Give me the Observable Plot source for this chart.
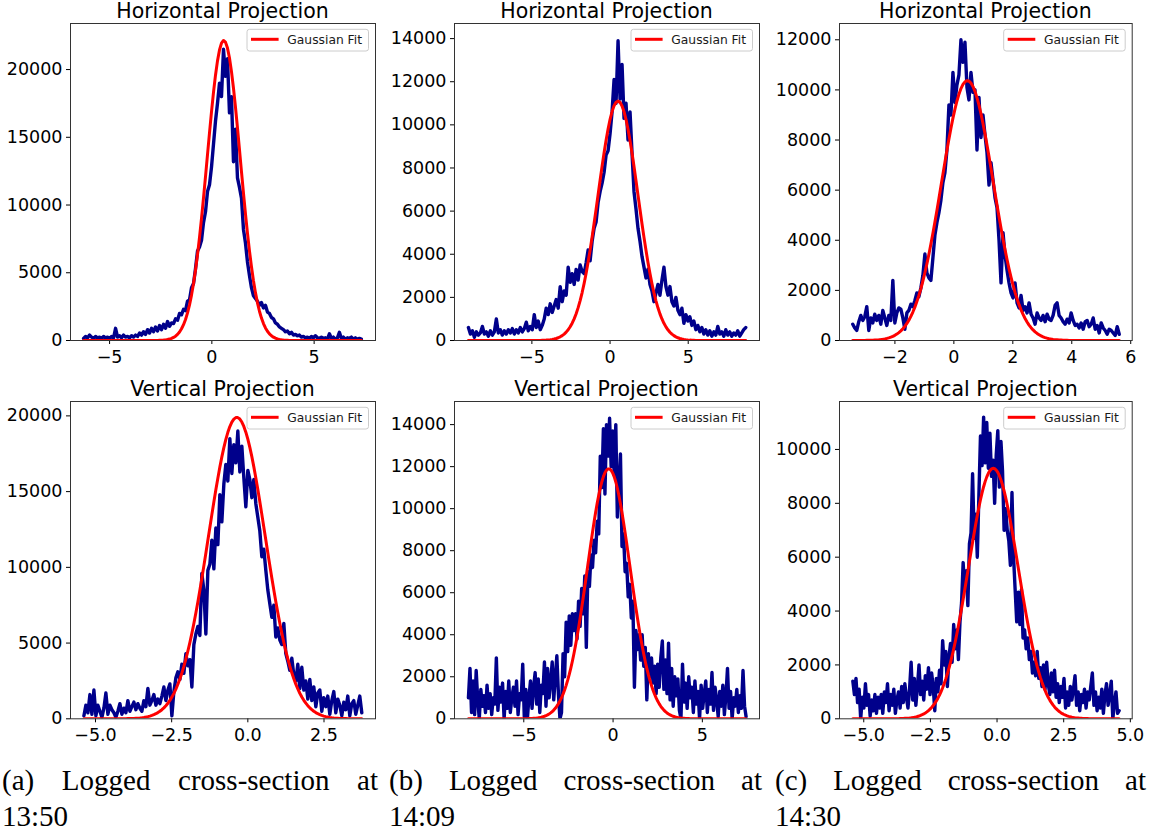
<!DOCTYPE html>
<html>
<head>
<meta charset="utf-8">
<script src="https://cdn.jsdelivr.net/npm/d3@7"></script>
<script src="https://cdn.jsdelivr.net/npm/@observablehq/plot@0.6"></script>
<style>
  html, body { margin: 0; padding: 0; background: white; }
  #figure { position: relative; width: 1149px; height: 832px; overflow: hidden; background: white; }
  #figure svg { position: absolute; }
  .caption { position: absolute; font-family: "Liberation Serif", "DejaVu Serif", serif; font-size: 29px; line-height: 36px; color: black; z-index: 2; }
  .caption .first { text-align: justify; text-align-last: justify; white-space: nowrap; }
</style>
</head>
<body>
<div id="figure"></div>
<script>
// Beam cross-section profiles logged at three times: horizontal and vertical
// projections (intensity vs. position), each with its fitted Gaussian.

const panelTitles = ["Horizontal Projection", "Vertical Projection"];
const captionLabels = ["(a)", "(b)", "(c)"];
const captionTimes = ["13:50", "14:09", "14:30"];
const legendLabel = "Gaussian Fit";

// ---- 13:50 ----
const horiz1350Span = [-6.27, 7.31];
const horiz1350 = [
  150,300,200,400,250,150,300,200,250,150,
  300,200,250,150,300,200,900,250,350,200,
  400,250,300,200,350,250,400,300,550,400,
  650,450,800,550,900,650,1000,700,1100,800,
  1200,900,1400,1050,1300,1250,1600,1500,2000,1900,
  2300,2200,2900,3000,3900,4200,5300,6600,6900,7400,
  8700,9500,11000,11500,12800,14500,16200,17500,19000,18000,
  21500,19500,20800,16800,18000,13200,15600,12000,11300,10500,
  8200,7200,5800,4800,3900,3300,3100,2900,2600,2800,
  2400,2600,2100,2000,1700,1600,1300,1200,1000,900,
  800,650,700,500,600,400,450,350,400,250,
  300,200,250,150,300,200,350,200,150,250,
  150,200,100,500,150,250,100,200,600,150,
  250,100,200,150,250,100,200,100,150,100
];
const horiz1350Fit = [22150, 0.58, 0.81]; // amplitude, mean, sigma

const vert1350Span = [-5.38, 3.74];
const vert1350 = [
  200,900,400,1600,300,1900,200,900,500,100,
  700,1700,300,900,600,400,100,500,1000,300,
  700,400,1200,500,800,1100,600,1000,700,500,
  1200,800,2000,900,1200,1600,900,1300,1000,1500,
  2100,1200,1900,2300,200,1800,2700,3100,2600,3600,
  3000,4300,3500,3900,2100,4900,5600,6100,5500,9600,
  8500,5600,9800,10200,11800,9900,12600,11500,14800,13000,
  15500,16800,15700,18500,16200,18100,16900,19000,16300,18000,
  15900,14000,16400,15800,14600,15800,14200,13300,12400,10700,
  11200,9800,8500,7600,6700,7500,5400,6000,5200,4900,
  6300,4300,3800,3200,4000,2900,2500,3600,2000,3400,
  1900,2500,1300,2600,1200,2100,800,1700,1900,500,
  1400,800,1500,300,1200,1800,400,1300,900,200,
  1100,600,1500,200,1000,1200,300,900,1500,400
];
const vert1350Fit = [19900, -0.36, 0.93];

// ---- 14:09 ----
const horiz1409Span = [-9.06, 8.68];
const horiz1409 = [
  600,300,450,150,400,250,350,650,300,400,
  200,450,250,400,1000,350,500,250,450,300,
  500,350,550,300,500,350,600,400,550,850,
  450,650,500,1200,600,900,500,700,1000,1500,
  1200,1700,1300,1600,1900,1500,2500,1800,2300,2100,
  3400,2700,3100,2600,3300,2800,3500,3200,3100,3600,
  4200,3700,4600,5200,5500,6400,6900,7300,7800,8600,
  8800,9600,10600,12100,11000,13900,11200,12800,10300,11000,
  9300,10600,8700,6900,6100,5200,4600,3900,3400,2900,
  3300,2600,2300,1800,2200,2600,2100,2800,3400,2500,
  2100,2500,1800,1600,2000,1400,1200,1500,800,1200,
  900,1100,700,900,500,700,400,600,300,500,
  250,450,200,400,250,650,300,400,200,500,
  250,400,200,350,250,450,200,350,500,600
];
const horiz1409Fit = [11100, 0.51, 1.28];

const vert1409Span = [-8.1, 7.45];
const vert1409 = [
  1000,2400,300,1800,200,2300,900,0,1400,600,
  1100,300,1600,500,1200,200,1000,700,2900,400,
  1500,800,1700,0,1300,500,1800,300,1000,1500,
  600,1800,200,1200,900,2600,100,1400,0,1000,
  1800,500,1500,2200,700,1900,300,1600,1200,2700,
  600,2400,1000,1800,2700,900,2000,3000,1200,0,
  300,3100,2000,4600,3200,4900,3500,5000,4200,5000,
  3800,5600,4400,6200,5000,6800,3400,7000,6300,7800,
  7200,8500,7900,9400,8800,12500,11000,13800,10700,14000,
  12500,14300,12000,13700,11600,14000,9600,11000,12600,8200,
  8800,7000,7400,5800,6400,4800,5600,1500,4200,3300,
  4000,2800,4000,2500,3400,900,3100,2000,2900,1700,
  2500,1200,2600,1500,2900,3700,1400,2800,1200,3600,
  900,2400,600,2000,1100,1900,400,0,2600,800,
  1700,500,2000,1000,1500,300,1800,700,1300,0,
  1600,500,1200,1800,300,1400,700,2200,400,1500,
  900,100,1300,600,1600,200,1100,2400,500,1300,
  0,1000,600,1400,300,1100,500,2300,600,100
];
const vert1409Fit = [11900, -0.24, 1.19];

// ---- 14:30 ----
const horiz1430Span = [-3.43, 5.61];
const horiz1430 = [
  650,500,400,750,1000,800,950,1350,400,900,
  700,1050,800,1000,650,1200,900,600,1000,800,
  2400,700,1100,1300,1250,900,450,1100,1200,1450,
  1350,1600,1900,1750,2100,2600,3450,2700,2500,2400,
  3300,4200,4700,5100,5600,6300,6700,7600,9400,9000,
  10700,9500,10200,10600,12000,11100,11900,10100,9600,10700,
  9900,10000,7600,9700,8100,9000,8200,7500,6200,7100,
  6400,5700,5300,4000,2300,4300,3400,2800,2300,1900,
  1700,2300,1500,1300,1800,1200,1350,1100,1500,1050,
  900,650,1100,900,800,1000,750,1050,850,800,
  1000,1400,1500,1000,900,750,650,850,700,1100,
  800,600,650,500,700,450,750,800,550,650,
  900,450,600,300,700,500,400,250,450,400,
  300,200,550,250
];
const horiz1430Fit = [10370, 0.46, 0.88];

const vert1430Span = [-5.41, 4.58];
const vert1430 = [
  1400,900,1500,600,1100,0,800,400,1300,500,
  900,100,700,300,900,200,800,400,900,200,
  1000,600,1300,300,900,500,1100,200,700,1000,
  400,1200,600,1300,800,400,1100,2100,700,1500,
  500,1200,2000,900,1400,700,1600,1100,1900,900,
  1700,1200,300,1500,1000,1800,1300,2900,2000,2500,
  1200,2300,2800,2100,3500,2600,3300,2200,3600,4300,
  5800,4800,5500,4200,6500,6900,9100,6700,7600,6000,
  8300,10500,9400,11200,9500,11000,9300,10600,9000,9600,
  8000,9800,10700,8600,10300,9200,7000,7800,7000,6600,
  5700,8400,6000,4800,3600,4700,3500,4800,3000,3300,
  2600,3000,2200,2500,1700,2100,1600,2500,1500,1900,
  1200,2000,1100,2100,1300,900,1700,1000,1800,800,
  1300,600,1200,800,1500,400,1000,500,1200,700,
  1100,1600,500,1000,300,900,600,1100,400,1000,
  700,1200,1700,500,1000,300,800,400,1100,200,
  900,1300,500,900,1400,0,600,1000,200,300
];
const vert1430Fit = [9300, -0.14, 0.93];

// ---- axis ticks ----
const xTicksWide = [-5, 0, 5];
const xTicks1430H = [-2, 0, 2, 4, 6];
const xTicks1350V = [-5, -2.5, 0, 2.5];
const xTicks1430V = [-5, -2.5, 0, 2.5, 5];
const yTicks5k = [0, 5000, 10000, 15000, 20000];
const yTicks14k = [0, 2000, 4000, 6000, 8000, 10000, 12000, 14000];
const yTicks12k = [0, 2000, 4000, 6000, 8000, 10000, 12000];
const yTicks10k = [0, 2000, 4000, 6000, 8000, 10000];

// Figure layout: three columns (one per time), two rows (H / V projections).
const columns = [
  {left: 0, marginLeft: 70, marginRight: 8},
  {left: 383, marginLeft: 71, marginRight: 7},
  {left: 766, marginLeft: 73, marginRight: 17.3}
];
const rows = [
  {top: 0, height: 368, marginTop: 23, marginBottom: 28},
  {top: 368, height: 390, marginTop: 33, marginBottom: 39.7}
];

const figure = document.getElementById("figure");

// Panel title, centred above the frame.
function titleMark(text) {
  return (index, scales, values, dimensions) => {
    const {width, marginLeft, marginRight, marginTop} = dimensions;
    const t = d3.create("svg:text")
      .attr("class", "panel-title")
      .attr("x", marginLeft + (width - marginLeft - marginRight) / 2)
      .attr("y", marginTop - 5.4)
      .attr("text-anchor", "middle")
      .attr("font-family", "DejaVu Sans")
      .attr("font-size", 20.5)
      .attr("fill", "black")
      .text(text);
    return t.node();
  };
}

// Legend box drawn in the upper-right corner of the frame.
function legendBox(index, scales, values, dimensions) {
  const {width, marginRight, marginTop} = dimensions;
  const w = 121.5, h = 21.7;
  const x0 = width - marginRight - 6.5 - w;
  const y0 = marginTop + 6.3;
  const g = d3.create("svg:g").attr("class", "panel-legend");
  g.append("rect")
    .attr("x", x0).attr("y", y0).attr("width", w).attr("height", h)
    .attr("rx", 2.5).attr("fill", "white").attr("fill-opacity", 0.8)
    .attr("stroke", "#cccccc").attr("stroke-width", 1);
  g.append("line")
    .attr("x1", x0 + 4).attr("x2", x0 + 31.6)
    .attr("y1", y0 + 10).attr("y2", y0 + 10)
    .attr("stroke", "#ff0000").attr("stroke-width", 3);
  g.append("text")
    .attr("x", x0 + 40.3).attr("y", y0 + 10).attr("dy", "0.36em")
    .attr("text-anchor", "start")
    .attr("font-family", "DejaVu Sans").attr("font-size", 12.3)
    .attr("fill", "#1a1a1a")
    .text(legendLabel);
  return g.node();
}

function drawPanel(col, row, values, span, fit, xDomain, yDomain, xTicks, yTicks, xFormat) {
  const c = columns[col], r = rows[row];
  const [x0, x1] = span;
  const n = values.length;
  const profile = values.map((v, i) => ({x: x0 + (x1 - x0) * i / (n - 1), y: v}));
  const [amp, mu, sigma] = fit;
  const gauss = profile.map(d => ({x: d.x, y: amp * Math.exp(-((d.x - mu) ** 2) / (2 * sigma * sigma))}));
  const svg = Plot.plot({
    width: 383,
    height: r.height,
    marginTop: r.marginTop,
    marginBottom: r.marginBottom,
    marginLeft: c.marginLeft,
    marginRight: c.marginRight,
    style: {fontFamily: "DejaVu Sans", fontSize: "17.5px", color: "black", background: "white", overflow: "visible"},
    x: {domain: xDomain, ticks: xTicks, tickFormat: d3.format(xFormat), tickSize: 4, tickPadding: 6, label: null},
    y: {domain: yDomain, ticks: yTicks, tickFormat: d3.format("d"), tickSize: 4, tickPadding: 4, label: null},
    marks: [
      Plot.line(profile, {x: "x", y: "y", stroke: "#00008b", strokeWidth: 3.4, clip: true}),
      Plot.line(gauss, {x: "x", y: "y", stroke: "#ff0000", strokeWidth: 3, clip: true}),
      Plot.frame({stroke: "#333333", strokeWidth: 1}),
      titleMark(panelTitles[row]),
      legendBox
    ]
  });
  // tick labels: DejaVu Sans at the same size as the figure's axes
  d3.select(svg).selectAll("text")
    .filter(function() { return !this.closest(".panel-legend") && !this.classList.contains("panel-title"); })
    .style("font-size", "17.5px")
    .style("font-family", "DejaVu Sans")
    .style("fill", "black");
  svg.style.left = c.left + "px";
  svg.style.top = r.top + "px";
  svg.style.maxWidth = "none";
  figure.appendChild(svg);
}

drawPanel(0, 0, horiz1350, horiz1350Span, horiz1350Fit, [-6.91, 8.0], [0, 23400], xTicksWide, yTicks5k, "d");
drawPanel(1, 0, horiz1409, horiz1409Span, horiz1409Fit, [-9.95, 9.56], [0, 14700], xTicksWide, yTicks14k, "d");
drawPanel(2, 0, horiz1430, horiz1430Span, horiz1430Fit, [-3.88, 6.05], [0, 12650], xTicks1430H, yTicks12k, "d");
drawPanel(0, 1, vert1350, vert1350Span, vert1350Fit, [-5.82, 4.19], [0, 20950], xTicks1350V, yTicks5k, ".1f");
drawPanel(1, 1, vert1409, vert1409Span, vert1409Fit, [-8.88, 8.2], [0, 15100], xTicksWide, yTicks14k, "d");
drawPanel(2, 1, vert1430, vert1430Span, vert1430Fit, [-5.91, 5.07], [0, 11780], xTicks1430V, yTicks10k, ".1f");

// Sub-figure captions
const captionLeft = [2, 389, 775];
const captionWidth = [376, 373, 371];
captionLabels.forEach((label, i) => {
  const div = document.createElement("div");
  div.className = "caption";
  div.style.left = captionLeft[i] + "px";
  div.style.width = captionWidth[i] + "px";
  div.style.top = "762px";
  const first = document.createElement("div");
  first.className = "first";
  first.textContent = label + " Logged cross-section at";
  const second = document.createElement("div");
  second.textContent = captionTimes[i];
  div.appendChild(first);
  div.appendChild(second);
  figure.appendChild(div);
});
</script>
</body>
</html>
